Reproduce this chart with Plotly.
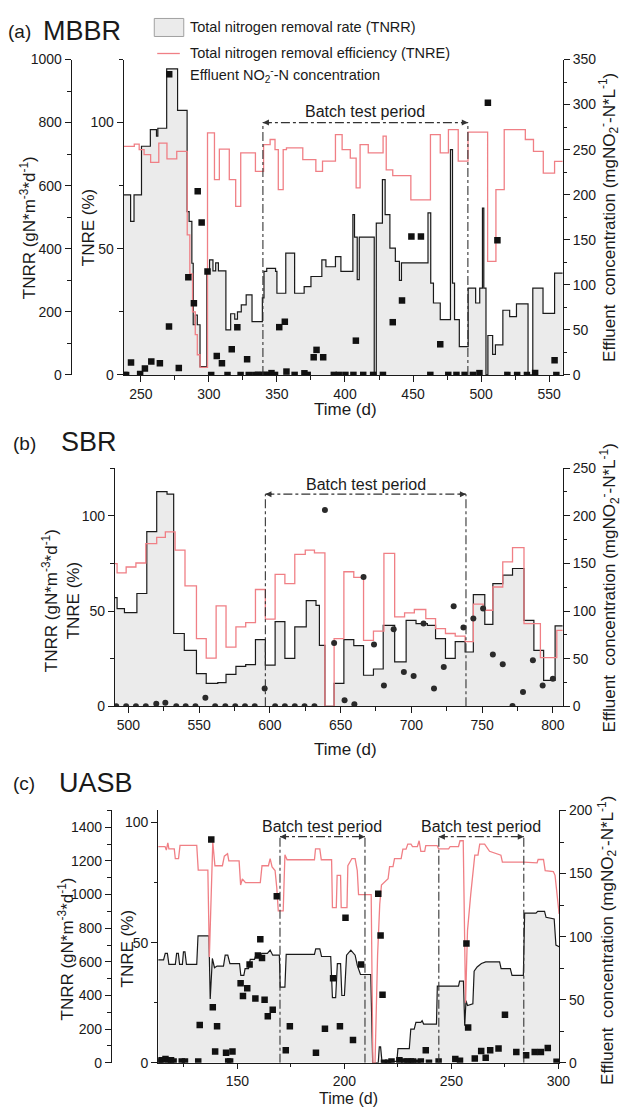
import plotly.graph_objects as go

W, H = 633, 1117
FONT = "Arial, 'Liberation Sans', sans-serif"
INK = "#1a1a1a"
FILL = "#ebebeb"
RED = "#f07f85"

# ---------------- (a) MBBR ----------------
a_tnrr_day = [237.5, 242.5, 245, 250.5, 257, 261.5, 262.5, 269, 277, 284, 285.5, 287.5, 288.5, 290, 291.5,
              293.5, 298.5, 300.5, 303, 305, 307, 312.5, 316, 319, 321, 323.8, 327.4, 331.7, 339.3, 340.5,
              342.5, 349, 350, 356.5, 363, 370, 375, 383, 386, 393, 397, 405.8, 407, 409, 410.5, 421.5,
              423, 427.5, 429.5, 433, 437, 440, 441.5, 461, 463, 465, 470, 477.5, 479, 480.5, 484, 490.5,
              496, 499, 501, 502, 503.6, 505, 508.5, 510.5, 516, 521, 526, 534.5, 538, 545.5, 554, 560]
a_tnrr = [571, 487, 571, 725, 778, 757, 782, 970, 839, 518, 487, 354, 159, 190, 159,
          26, 333, 365, 330, 355, 330, 143, 194, 177, 200, 222, 254, 169, 244, 328,
          338, 328, 259, 386, 259, 280, 312, 365, 343, 375, 328, 508, 437, 302, 437, 0,
          481, 619, 508, 402, 360, 300, 355, 514, 291, 228, 175, 714, 291, 175, 90, 275,
          228, 275, 529, 275, 0, 125, 65, 95, 205, 185, 225, 0, 275, 195, 323, 323]
a_tnre_day = [237.5, 245.2, 248.8, 252.4, 257.2, 263.2, 269.2, 276.4, 284.1, 286, 288, 290, 291.5, 293.5,
              299, 304.1, 307.7, 315, 319.7, 323.4, 334.2, 340.2, 345, 348.6, 351, 354.6, 357, 369, 378.6,
              383.5, 393, 397.9, 403.9, 408.2, 411.1, 417.1, 428, 430.3, 435.1, 448.4, 462.8, 470, 476,
              483.2, 490.4, 504.8, 510.9, 517, 532.5, 538.5, 545.7, 554, 560]
a_tnre = [90.6, 91.5, 89.3, 87.3, 84.2, 91.9, 85.6, 88.6, 55.5, 40, 25, 16, 8, 3,
          95.9, 77.4, 89.5, 77.4, 66.8, 88, 80.7, 91.3, 93.3, 89.3, 73.4, 89.3, 90, 85.3, 80.7,
          84.7, 95.2, 89.3, 85.9, 74.1, 91.3, 88, 94.6, 81.3, 79, 69.4, 95.2, 88, 97.2,
          84.7, 96.2, 45, 73.4, 97.2, 93.3, 88.6, 80, 84.6, 84.6]
a_no2_day = [238, 239.2, 242.8, 249.5, 253, 257.7, 264, 270.7, 277.9, 284.9, 289, 291.8, 294.7, 299, 301.7,
             305.8, 309.6, 313.7, 316.8, 320.9, 323.3, 328.1, 329.3, 334.1, 336, 338.9, 341, 343.7, 346,
             348.6, 351.7, 355.8, 357, 363, 370.2, 372.6, 377, 379.1, 384, 391.8, 395.4, 400.3, 406.2,
             408, 413.4, 420.7, 427.9, 435.1, 441.9, 448.8, 455.8, 462.7, 470, 475.9, 481.9, 487.9, 494,
             498.8, 505, 512, 519.3, 526.5, 533.7, 539.7, 554, 555.3]
a_no2 = [0, 0, 13.7, 1, 7, 14.8, 13, 53.7, 7.8, 108.5, 79.6, 203.7, 169, 114.8, 0,
         21, 13, 0, 28.5, 53, 0, 17.4, 0, 0, 0, 0, 0, 0, 2,
         0, 53, 59, 3.7, 0, 1.8, 0, 19.6, 27.8, 19.6, 0, 0, 0, 0,
         38, 0, 0, 0, 58.5, 82.6, 153.7, 153.7, 0, 34, 0, 0, 0, 0,
         2, 302, 149.5, 0, 0, 0, 2, 16.3, 0]
a_batch = [339.7, 490.3]
a_batch_level = 100      # TNRE units
a_batch_text = 104.5

# ---------------- (b) SBR ----------------
b_tnrr_day = [490.5, 492, 497.2, 506, 513, 520, 527.3, 532, 539.5, 548.1, 555, 563.2, 569, 576, 582.9,
              589.8, 596.8, 603.7, 610.6, 617.6, 625.7, 632.6, 635, 638.9, 645.4, 652.3, 659.3, 666.2,
              673.2, 680.1, 688.2, 696.3, 703.3, 711.3, 717.1, 724.1, 731, 738, 743.8, 751.9, 757.6,
              764.6, 771.5, 779.6, 786.6, 793.5, 801.6, 807]
b_tnrr = [57, 51.3, 49.2, 59.2, 91.6, 112.6, 111.3, 38.2, 29.4, 17.2, 12, 12.4, 16.8, 21, 21.9,
          35, 21.6, 44.4, 25.2, 41.7, 55.5, 53, 32, 0, 12, 35, 31.8, 16.3,
          19.6, 42.5, 23.3, 45.1, 43.4, 42.5, 35.5, 25.2, 33.9, 28.5, 58.6, 43, 64.4,
          68.8, 72.3, 45.1, 29.4, 13.6, 42.2, 42.2]
b_tnre_day = [490.5, 492, 498.4, 505.3, 512.3, 520, 526.1, 533, 540, 548.1, 555, 562, 569, 576, 582.9,
              589.8, 596.8, 603.7, 610.6, 617.6, 625, 631.5, 638.9, 645.4, 652.3, 659.3, 666.2, 673.2,
              680.6, 688.2, 695.2, 702.1, 710.2, 717.1, 724.1, 731, 738, 743.8, 750.7, 757.6, 764.6,
              771.5, 779.6, 791.2, 802.8, 807]
b_tnre = [74.9, 70, 73.1, 75.2, 85.4, 88.6, 91.5, 81.9, 63.2, 35.5, 25.3, 52.7, 31.1, 41.7, 43.9,
          61.3, 45.7, 69.2, 64.4, 79.7, 81.9, 80.5, 0, 35.5, 70.6, 67.6, 34.6, 39.5,
          80.2, 46.9, 49, 50.8, 46, 40.8, 38.2, 36.8, 33.9, 53.6, 50.4, 62.6, 75.8,
          83.3, 43.4, 25.6, 39.9, 39.9]
b_no2_day = [491.4, 498.4, 505.3, 512.3, 519.7, 526.1, 533.8, 540.5, 547.4, 554.4, 561.3, 568.5, 575.5,
             582.4, 589.3, 596.3, 603.7, 610.6, 617.6, 624.5, 631.5, 638.9, 645.4, 652.8, 659.7, 666.2,
             673.6, 680.6, 687.5, 694.7, 701.6, 708.6, 716, 722.9, 729.9, 736.8, 743.8, 750.7, 757.6,
             764.6, 771.5, 778.9, 785.9, 792.8, 800]
b_no2 = [0, 0, 0, 0, 2.8, 3.8, 0, 0, 0, 9.1, 0, 0, 0,
         0, 0, 18.6, 0, 0, 0, 0, 0, 205.9, 66.5, 6.3, 2.1, 135.8,
         64.8, 22, 80.9, 36.1, 31.9, 86.8, 18.6, 41.3, 105.1, 82.7, 92.1, 102.6, 54.3,
         44.1, 0.3, 15, 48.3, 22, 29]
b_batch = [596.8, 738.6]
b_batch_level = 111.3
b_batch_text = 116.5

# ---------------- (c) UASB ----------------
c_tnrr_day = [113, 115.5, 116.3, 117.3, 118, 121, 121.6, 122.4, 123, 124.3, 124.8, 125.5, 126.2, 131, 131.6,
              136.7, 137.3, 138.3, 139.3, 140.5, 143.5, 144.3, 145.5, 146.5, 151, 151.6, 153, 153.6, 155.2,
              156, 158, 158.8, 160.5, 161.5, 164, 165.3, 166.5, 168, 169.6, 170, 172.2, 172.8, 186, 186.6,
              188.5, 189.3, 193.6, 194.4, 195.9, 196.7, 198.2, 198.8, 200, 201, 203, 205, 206, 207.5, 212.3,
              213.2, 215.8, 216.3, 216.9, 217.6, 224.5, 225, 230.3, 231, 232.6, 233.4, 235.7, 236.3, 237,
              243, 243.4, 253.3, 253.8, 255.6, 256.2, 256.8, 257.5, 260, 260.6, 262, 264, 266, 272.5, 273.2,
              277.5, 278.3, 283.6, 284.2, 289.5, 290.3, 293.5, 294.2, 298, 298.8, 300.3]
c_tnrr = [612, 612, 650, 650, 585, 585, 650, 650, 585, 585, 660, 660, 585, 585, 755,
          755, 380, 620, 565, 575, 575, 640, 640, 590, 590, 520, 520, 560, 560,
          615, 615, 650, 640, 650, 650, 670, 640, 640, 640, 450, 450, 645, 645, 677,
          677, 632, 632, 387, 387, 590, 590, 400, 400, 640, 670, 640, 580, 525, 525,
          0, 0, 95, 95, 0, 10, 84, 84, 200, 200, 240, 240, 250, 230,
          230, 456, 456, 485, 485, 220, 370, 340, 350, 545, 570, 590, 600, 600, 560,
          560, 520, 520, 890, 890, 900, 900, 865, 855, 700, 690]
c_tnre_day = [113, 116.2, 116.8, 117.5, 118, 120.5, 121, 122.5, 123.2, 131, 131.7, 136.2, 136.9, 138.5,
              139.5, 143, 143.9, 145.4, 146, 150.8, 151.5, 152.3, 153.8, 160.7, 161.5, 164.5, 165.3,
              166.2, 167.6, 168.4, 169.1, 171.4, 172.2, 173.2, 186, 186.5, 188.5, 189.2, 194, 194.4,
              196.2, 196.6, 198.2, 198.5, 201.2, 201.6, 203.5, 205, 206, 206.6, 212.5, 213.3, 214.3,
              215.5, 216.5, 217.3, 220.4, 221.1, 222.7, 223.4, 226.5, 227.3, 228.8, 229.6, 231.1, 231.8,
              234.1, 234.9, 235.7, 237.5, 238, 243.3, 244, 248.7, 249.4, 253.3, 254, 255.5, 256.6,
              257.5, 259, 260.1, 260.9, 262.4, 263.2, 265.5, 267.8, 273.1, 273.8, 283.8, 290, 290.5,
              293, 293.8, 297.6, 298.4, 300.3]
c_tnre = [90, 90, 88.5, 91.5, 89, 89, 85, 85, 90.5, 90.5, 80.2, 80.2, 44, 92,
          82, 82, 86, 87, 84, 84, 74, 76.5, 75, 75, 82, 82, 85,
          81.5, 80, 72.8, 63.2, 63.2, 86.6, 84.5, 84.5, 89, 89, 84.5, 84.5, 64.6,
          64.6, 78, 78, 64.6, 64.6, 82, 85, 85, 80, 70, 70, 0, 0,
          45, 66, 74, 76.6, 81.6, 81.6, 85, 85, 88.9, 88.9, 91, 91, 90,
          90, 92.4, 88, 88, 90.4, 90.4, 89, 89, 90, 90, 92.4, 92.4, 25,
          55, 70, 81.6, 86.4, 86.4, 91, 91, 88, 86.4, 83.5, 83.5, 83.2, 84.6,
          84.6, 80, 79.6, 78, 62]
c_no2_day = [113.6, 114.5, 116.4, 117.6, 119, 120.2, 124, 125.5, 131.7, 132.4, 137.8, 138.5, 139.6, 140.5,
             144.7, 145.7, 146.6, 147.7, 151.5, 152.6, 154.6, 155.7, 158.4, 159.6, 160.7, 161.5, 162.7,
             164.2, 166.5, 168.4, 172.6, 174.5, 186.7, 190.9, 194.7, 197.9, 200.5, 204, 207.8, 215.8,
             216.9, 217.8, 218.5, 220.4, 222, 225.7, 228, 229.5, 231, 232.1, 234.1, 235.7, 238, 239.5,
             244, 251.8, 254, 257, 257.8, 260.9, 263.9, 266, 268.1, 272, 275, 280.3, 284.9, 288.9,
             291.8, 295, 299.1]
c_no2 = [1, 2, 3, 1, 2, 1, 1, 1, 1, 30, 177, 44, 9, 29,
         8, 1, 1, 9, 63, 53, 59, 78, 51, 85, 98, 83, 50,
         37, 42, 132, 10, 29, 8, 27, 67, 29, 115, 18, 78, 134,
         101, 54, 0, 0, 1, 2, 1, 1, 1, 1, 0, 1, 10, 0,
         1, 3, 1.7, 94.5, 28, 3.4, 9.4, 4, 10, 11.3, 38, 8.6, 6, 8.6,
         8.6, 11.8, 0.8]
c_batch1 = [169.9, 209.6]
c_batch2 = [244.1, 283.8]
c_batch_level = 94.1
c_batch_text = 98.5

legend_labels = ["Total nitrogen removal rate (TNRR)",
                 "Total nitrogen removal efficiency (TNRE)",
                 "Effluent NO<sub>2</sub><sup>-</sup>-N concentration"]

fig = go.Figure()

# panel (a): TNRR area on y (free), TNRE on y2, NO2 on y3
fig.add_trace(go.Scatter(x=a_tnrr_day, y=a_tnrr, xaxis="x", yaxis="y", mode="lines", line_shape="hv",
                         line=dict(color=INK, width=1.2), fill="tozeroy", fillcolor=FILL, name=legend_labels[0]))
fig.add_trace(go.Scatter(x=a_tnre_day, y=a_tnre, xaxis="x", yaxis="y2", mode="lines", line_shape="hv",
                         line=dict(color=RED, width=1.3), name=legend_labels[1]))
fig.add_trace(go.Scatter(x=a_no2_day, y=a_no2, xaxis="x", yaxis="y3", mode="markers",
                         marker=dict(symbol="square", size=6.5, color="#111"), name=legend_labels[2]))
# panel (b)
fig.add_trace(go.Scatter(x=b_tnrr_day, y=b_tnrr, xaxis="x2", yaxis="y4", mode="lines", line_shape="hv",
                         line=dict(color=INK, width=1.2), fill="tozeroy", fillcolor=FILL))
fig.add_trace(go.Scatter(x=b_tnre_day, y=b_tnre, xaxis="x2", yaxis="y4", mode="lines", line_shape="hv",
                         line=dict(color=RED, width=1.3)))
fig.add_trace(go.Scatter(x=b_no2_day, y=b_no2, xaxis="x2", yaxis="y5", mode="markers",
                         marker=dict(symbol="circle", size=6, color="#2a2a2a")))
# panel (c)
fig.add_trace(go.Scatter(x=c_tnrr_day, y=c_tnrr, xaxis="x3", yaxis="y6", mode="lines",
                         line=dict(color=INK, width=1.2), fill="tozeroy", fillcolor=FILL))
fig.add_trace(go.Scatter(x=c_tnre_day, y=c_tnre, xaxis="x3", yaxis="y7", mode="lines",
                         line=dict(color=RED, width=1.3)))
fig.add_trace(go.Scatter(x=c_no2_day, y=c_no2, xaxis="x3", yaxis="y8", mode="markers",
                         marker=dict(symbol="square", size=6.5, color="#111")))


def ax_style(**kw):
    d = dict(showline=True, linecolor=INK, linewidth=1.2, ticks="outside", ticklen=6, tickwidth=1.2,
             tickcolor=INK, showgrid=False, zeroline=False, fixedrange=True,
             tickfont=dict(family=FONT, size=14, color=INK))
    d.update(kw)
    return d


def minor(dt):
    return dict(dtick=dt, ticklen=3.5, tickwidth=1, tickcolor=INK, ticks="outside", showgrid=False)


# the captured picture maps page row y to about 8.56 + 0.9844*y, so place things by picture row
def YP(p):
    return 1 - ((p - 8.56) / 0.9844) / H


def dom_x(l, r):
    return [l / W, r / W]


def dom_y(bottom, top):
    return [YP(bottom), YP(top)]


fig.update_layout(
    width=W, height=H, margin=dict(l=0, r=0, t=0, b=0), autosize=False,
    paper_bgcolor="white", plot_bgcolor="rgba(0,0,0,0)",
    font=dict(family=FONT, color=INK),
    showlegend=False,
    # (a)
    xaxis=ax_style(domain=dom_x(126, 572.7), anchor="y", range=[237.5, 560], dtick=50, tick0=250,
                   minor=minor(25)),
    yaxis=ax_style(domain=dom_y(375, 60), anchor="free", position=72 / W, range=[0, 1000], dtick=200,
                   minor=minor(100)),
    yaxis2=ax_style(overlaying="y", anchor="x", side="left", range=[0, 125], tickvals=[0, 50, 100],
                    minor=minor(25)),
    yaxis3=ax_style(overlaying="y", anchor="x", side="right", range=[0, 350], dtick=50, minor=minor(25)),
    # (b)
    xaxis2=ax_style(domain=dom_x(117, 572.7), anchor="y4", range=[490.5, 807], dtick=50, tick0=500,
                    minor=minor(25)),
    yaxis4=ax_style(domain=dom_y(706, 468), anchor="x2", range=[0, 125], tickvals=[0, 50, 100],
                    minor=minor(25)),
    yaxis5=ax_style(overlaying="y4", anchor="x2", side="right", range=[0, 250], dtick=50, minor=minor(25)),
    # (c)
    xaxis3=ax_style(domain=dom_x(161, 569), anchor="y6", range=[113, 300.3], dtick=50, tick0=150,
                    ticklen=5, minor=minor(25)),
    yaxis6=ax_style(domain=dom_y(1062, 810), anchor="free", position=113 / W, range=[0, 1500],
                    tickvals=[0, 200, 400, 600, 800, 1000, 1200, 1400], minor=minor(100)),
    yaxis7=ax_style(overlaying="y6", anchor="x3", side="left", range=[0, 105], tickvals=[0, 50, 100],
                    minor=minor(25)),
    yaxis8=ax_style(overlaying="y6", anchor="x3", side="right", range=[0, 200], dtick=50, minor=minor(25)),
)

shapes = []
annotations = []


def batch(xref, yref, span, level, text_level):
    for xv in span:
        shapes.append(dict(type="line", xref=xref, yref=yref, x0=xv, x1=xv, y0=0, y1=level,
                           line=dict(color="#333", width=1.1, dash="dashdot")))
    shapes.append(dict(type="line", xref=xref, yref=yref, x0=span[0], x1=span[1], y0=level, y1=level,
                       line=dict(color="#333", width=1.1, dash="dashdot")))
    d = (span[1] - span[0]) * 0.04
    for xv, tail in ((span[0], span[0] + d), (span[1], span[1] - d)):
        annotations.append(dict(xref=xref, yref=yref, x=xv, y=level, axref=xref, ayref=yref, ax=tail,
                                ay=level, showarrow=True, arrowhead=2, arrowsize=1.1, arrowwidth=1.1,
                                arrowcolor="#333", text=""))
    annotations.append(dict(xref=xref, yref=yref, x=(span[0] + span[1]) / 2, y=text_level,
                            text="Batch test period", showarrow=False,
                            font=dict(family=FONT, size=16, color=INK), yanchor="middle"))


batch("x", "y2", a_batch, a_batch_level, a_batch_text)
batch("x2", "y4", b_batch, b_batch_level, b_batch_text)
batch("x3", "y7", c_batch1, c_batch_level, c_batch_text)
batch("x3", "y7", c_batch2, c_batch_level, c_batch_text)


def txt(x, y, s, size, angle=0, xanchor="center"):
    annotations.append(dict(xref="paper", yref="paper", x=x / W, y=YP(y), text=s, showarrow=False,
                            textangle=angle, xanchor=xanchor, yanchor="middle",
                            font=dict(family=FONT, size=size, color=INK)))


# manual legend (swatches + labels)
shapes.append(dict(type="rect", xref="paper", yref="paper", x0=157 / W, x1=187 / W, y0=YP(37),
                   y1=YP(19), fillcolor=FILL, line=dict(color="#a0a0a0", width=1)))
shapes.append(dict(type="line", xref="paper", yref="paper", x0=160 / W, x1=183 / W, y0=YP(54),
                   y1=YP(54), line=dict(color=RED, width=1.3)))
shapes.append(dict(type="rect", xref="paper", yref="paper", x0=169 / W, x1=175.5 / W, y0=YP(78),
                   y1=YP(71.5), fillcolor="#111", line=dict(width=0)))
txt(191, 28, legend_labels[0], 14.5, xanchor="left")
txt(191, 54, legend_labels[1], 14.5, xanchor="left")
txt(191, 75, legend_labels[2], 14.5, xanchor="left")

tnrr_t = "TNRR (gN*m<sup>-3</sup>*d<sup>-1</sup>)"
no2_t = "Effluent  concentration (mgNO<sub>2</sub><sup>-</sup>-N*L<sup>-1</sup>)"
# (a)
txt(6, 32, "(a)", 19, xanchor="left")
txt(42, 32, "MBBR", 27, xanchor="left")
txt(28, 228, tnrr_t, 17, -90)
txt(90, 228, "TNRE (%)", 17, -90)
txt(620, 218, no2_t, 17, -90)
txt(352, 410, "Time (d)", 17)
# (b)
txt(11, 443, "(b)", 19, xanchor="left")
txt(60, 442, "SBR", 27, xanchor="left")
txt(62, 600, tnrr_t + "<br>TNRE (%)", 17, -90)
txt(620, 588, no2_t, 17, -90)
txt(352, 749, "Time (d)", 17)
# (c)
txt(11, 783, "(c)", 19, xanchor="left")
txt(58, 783, "UASB", 27, xanchor="left")
txt(67, 948, tnrr_t, 17, -90)
txt(130, 948, "TNRE (%)", 17, -90)
txt(618, 940, no2_t, 17, -90)
annotations.append(dict(xref="paper", yref="paper", x=355 / W, y=0, text="Time (d)", showarrow=False,
                        xanchor="center", yanchor="bottom", font=dict(family=FONT, size=16, color=INK)))

fig.update_layout(shapes=shapes, annotations=annotations)

page_fix = ("document.documentElement.style.margin='0';document.body.style.margin='0';"
            "document.documentElement.style.overflow='hidden';document.body.style.overflow='hidden';")
fig.write_html("out.html", post_script=page_fix, config={"displayModeBar": False})
